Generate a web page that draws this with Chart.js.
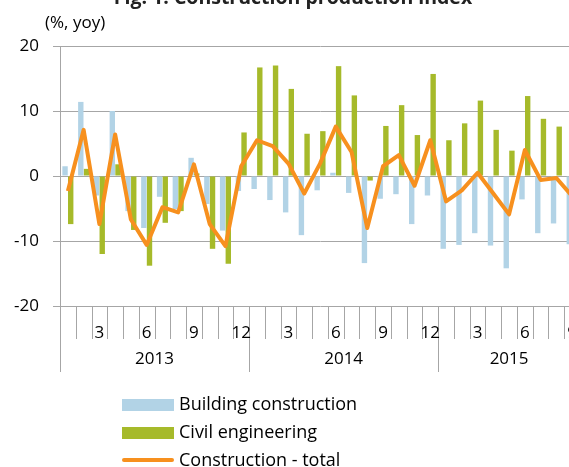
<!DOCTYPE html>
<html>
<head>
<meta charset="utf-8">
<script src="https://cdn.jsdelivr.net/npm/chart.js@4/dist/chart.umd.min.js"></script>
<style>
  html, body { margin:0; padding:0; background:#fff; overflow:hidden; width:569px; height:467px; }
  #wrap { position:relative; width:569px; height:467px; overflow:hidden; font-family:"Open Sans", sans-serif; color:#000; }
  #c { position:absolute; left:0; top:0; }
  .txt { position:absolute; white-space:nowrap; line-height:20px; }
  .title { font-weight:bold; font-size:19.5px; left:0; width:586px; text-align:center; top:-13px; color:#222; }
  .unit { font-size:17px; left:45px; top:12px; }
  .leg { position:absolute; left:122px; width:52px; }
  .legtxt { font-size:18px; left:179px; }
</style>
</head>
<body>
<div id="wrap">
  <canvas id="c" width="590" height="467"></canvas>
  <div class="txt title">Fig. 1: Construction production index</div>
  <div class="txt unit">(%, yoy)</div>
  <div class="leg" style="top:399px;height:12px;background:#b2d3e6"></div>
  <div class="txt legtxt" style="top:393px">Building construction</div>
  <div class="leg" style="top:427px;height:12px;background:#a6ba2a"></div>
  <div class="txt legtxt" style="top:421px">Civil engineering</div>
  <div class="leg" style="top:458px;height:4px;border-radius:2px;background:#f7901e"></div>
  <div class="txt legtxt" style="top:449px">Construction - total</div>
</div>
<script>
/* ── Data ── */
const months = [1,2,3,4,5,6,7,8,9,10,11,12, 1,2,3,4,5,6,7,8,9,10,11,12, 1,2,3,4,5,6,7,8,9];
const years  = ['2013','2014','2015'];
const shownMonths = [3, 6, 9, 12];

const building = [1.5, 11.4, -3.0, 10.0, -5.4, -8.0, -3.2, -5.1, 2.8, -4.3, -8.4, -2.3,
                  -2.0, -3.7, -5.6, -9.1, -2.2, 0.5, -2.6, -13.4, -3.5, -2.8, -7.4, -3.0,
                  -11.2, -10.6, -8.8, -10.7, -14.2, -3.6, -8.8, -7.3, -10.5];
const civil    = [-7.4, 1.1, -12.0, 1.8, -8.3, -13.8, -7.2, -5.4, 0.4, -11.2, -13.5, 6.7,
                  16.7, 17.0, 13.4, 6.5, 6.9, 16.9, 12.4, -0.7, 7.7, 10.9, 6.3, 15.7,
                  5.5, 8.1, 11.6, 7.1, 3.9, 12.3, 8.8, 7.6, 6.0];
const total    = [-2.3, 7.1, -7.4, 6.4, -6.7, -10.6, -4.8, -5.6, 1.8, -7.4, -10.8, 1.5,
                  5.5, 4.6, 1.9, -2.7, 1.9, 7.6, 3.7, -8.0, 1.5, 3.2, -1.5, 5.5,
                  -3.9, -2.2, 0.5, -2.7, -5.9, 4.0, -0.6, -0.3, -3.1];

const yTicks = [-20, -10, 0, 10, 20];

const GRID = '#a6a6a6';
const FONT = '"Open Sans", sans-serif';

/* ── Two-level x axis (months / years) ── */
const monthYearAxis = {
  id: 'monthYearAxis',
  afterDraw(chart) {
    const ctx = chart.ctx, xs = chart.scales.x, area = chart.chartArea;
    const w = xs.getPixelForValue(1) - xs.getPixelForValue(0);
    const edge = i => xs.getPixelForValue(i) - w / 2;
    ctx.save();
    ctx.strokeStyle = GRID;
    ctx.lineWidth = 1;
    for (let i = 0; i <= months.length; i++) {
      const x = Math.round(edge(i)) + 0.5;
      ctx.beginPath();
      ctx.moveTo(x, area.bottom);
      ctx.lineTo(x, i % 12 === 0 ? 372 : 339);
      ctx.stroke();
    }
    ctx.fillStyle = '#000';
    ctx.font = '17px ' + FONT;
    ctx.textAlign = 'center';
    ctx.textBaseline = 'middle';
    months.forEach((m, i) => {
      if (shownMonths.includes(m)) ctx.fillText(String(m), xs.getPixelForValue(i), 333);
    });
    years.forEach((y, k) => {
      const first = k * 12, last = Math.min(first + 12, months.length);
      ctx.fillText(y, (edge(first) + edge(last)) / 2, 359);
    });
    ctx.restore();
  }
};

new Chart(document.getElementById('c'), {
  type: 'bar',
  data: {
    labels: months.map(String),
    datasets: [
      { type:'line', label:'Construction - total', data: total, borderColor:'#f7901e', borderWidth:4,
        pointRadius:0, tension:0, fill:false, order:0, borderJoinStyle:'round' },
      { label:'Building construction', data: building, backgroundColor:'#b2d3e6', order:1,
        categoryPercentage:0.72, barPercentage:0.95 },
      { label:'Civil engineering', data: civil, backgroundColor:'#a6ba2a', order:2,
        categoryPercentage:0.72, barPercentage:0.95 }
    ]
  },
  options: {
    responsive:false, animation:false, devicePixelRatio:1,
    layout:{ padding:{ top:46, right:10, bottom:161, left:0 } },
    plugins:{ legend:{ display:false }, tooltip:{ enabled:false } },
    scales:{
      x:{ display:false, offset:true },
      y:{
        min:-20, max:20,
        afterFit: s => { s.width = 60; },
        afterBuildTicks: s => { s.ticks = yTicks.map(v => ({ value:v })); },
        ticks:{ font:{ family:FONT, size:17 }, color:'#000', padding:14 },
        grid:{ color:GRID, lineWidth:1, tickLength:7 },
        border:{ display:true, color:GRID, width:1 }
      }
    }
  },
  plugins:[monthYearAxis]
});
</script>
</body>
</html>
